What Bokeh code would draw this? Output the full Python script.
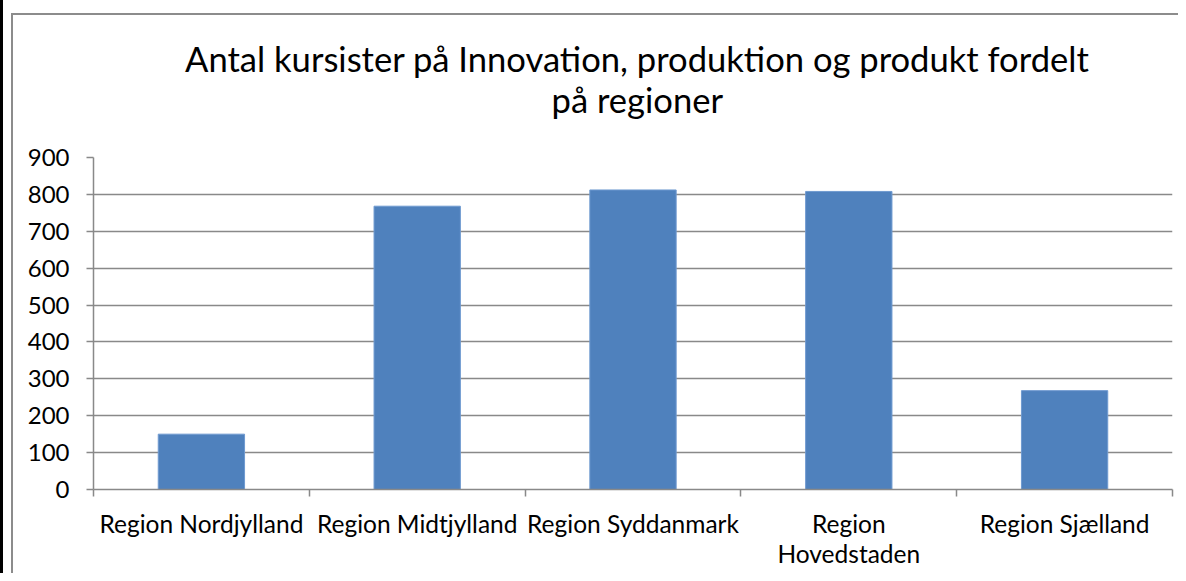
from bokeh.plotting import figure
from bokeh.models import FixedTicker, ColumnDataSource, Range1d, LinearAxis
from bokeh.layouts import column
from bokeh.embed import file_html
from bokeh.resources import INLINE

regions = ["Region Nordjylland", "Region Midtjylland", "Region Syddanmark",
           "Region\nHovedstaden", "Region Sjælland"]
values = [150, 768, 812, 808, 268]
y_ticks = [0, 100, 200, 300, 400, 500, 600, 700, 800, 900]
title_lines = ["Antal kursister på Innovation, produktion og produkt fordelt",
               "på regioner"]

FONT = "Lato"
GRAY = "#898989"

idx = list(range(len(regions)))
src = ColumnDataSource(dict(x=idx, top=values))

p = figure(width=1165, height=558,
           x_range=Range1d(-0.5, len(regions) - 0.5),
           y_range=Range1d(0, 900),
           output_backend="svg", toolbar_location=None, title=None,
           min_border_left=80, min_border_right=6,
           min_border_top=142, min_border_bottom=84)

p.vbar(x="x", top="top", width=0.4, bottom=0, source=src,
       fill_color="#4F81BD", line_color="#6F9AD0", line_width=1)

xa = p.xaxis[0]
xa.ticker = FixedTicker(ticks=idx, minor_ticks=[i - 0.5 for i in range(len(regions) + 1)])
xa.major_label_overrides = {i: r for i, r in zip(idx, regions)}
xa.major_tick_line_color = None
xa.major_tick_out = 0
xa.major_tick_in = 0
xa.minor_tick_line_color = GRAY
xa.minor_tick_line_width = 1.5
xa.minor_tick_out = 7
xa.minor_tick_in = 0
xa.axis_line_color = GRAY
xa.axis_line_width = 1.5
xa.major_label_text_font = FONT
xa.major_label_text_font_size = "24.5px"
xa.major_label_text_line_height = 1.05
xa.major_label_text_color = "black"
xa.major_label_standoff = 12

ya = p.yaxis[0]
ya.ticker = FixedTicker(ticks=y_ticks)
ya.major_tick_line_color = GRAY
ya.major_tick_line_width = 1.5
ya.major_tick_out = 7
ya.major_tick_in = 0
ya.minor_tick_line_color = None
ya.axis_line_color = GRAY
ya.axis_line_width = 1.5
ya.major_label_text_font = FONT
ya.major_label_text_font_size = "24px"
ya.major_label_text_color = "black"
ya.major_label_standoff = 17

p.xgrid.visible = False
p.ygrid.grid_line_color = GRAY
p.ygrid.grid_line_width = 1.5
p.ygrid.ticker = FixedTicker(ticks=y_ticks)
p.outline_line_color = None

# two-line centred title, set as the single label of a bare axis above the plot
title_pos = (len(regions) - 1) / 2 + 0.02
ta = LinearAxis(ticker=FixedTicker(ticks=[title_pos], minor_ticks=[]),
                major_label_overrides={title_pos: "\n".join(title_lines)},
                axis_line_color=None, major_tick_line_color=None,
                minor_tick_line_color=None, major_tick_out=0, major_tick_in=0,
                major_label_standoff=38,
                major_label_text_font=FONT, major_label_text_font_size="34.6px",
                major_label_text_line_height=1.0,
                major_label_text_color="black")
p.add_layout(ta, "above")

chart_box = column(p, margin=(13, 0, 0, 8),
                   styles={"border-left": "2px solid #8c8c8c",
                           "border-top": "2px solid #8c8c8c"})
root = column(chart_box, styles={"border-left": "3px solid black"})

open("out.html", "w").write(file_html(root, INLINE))
